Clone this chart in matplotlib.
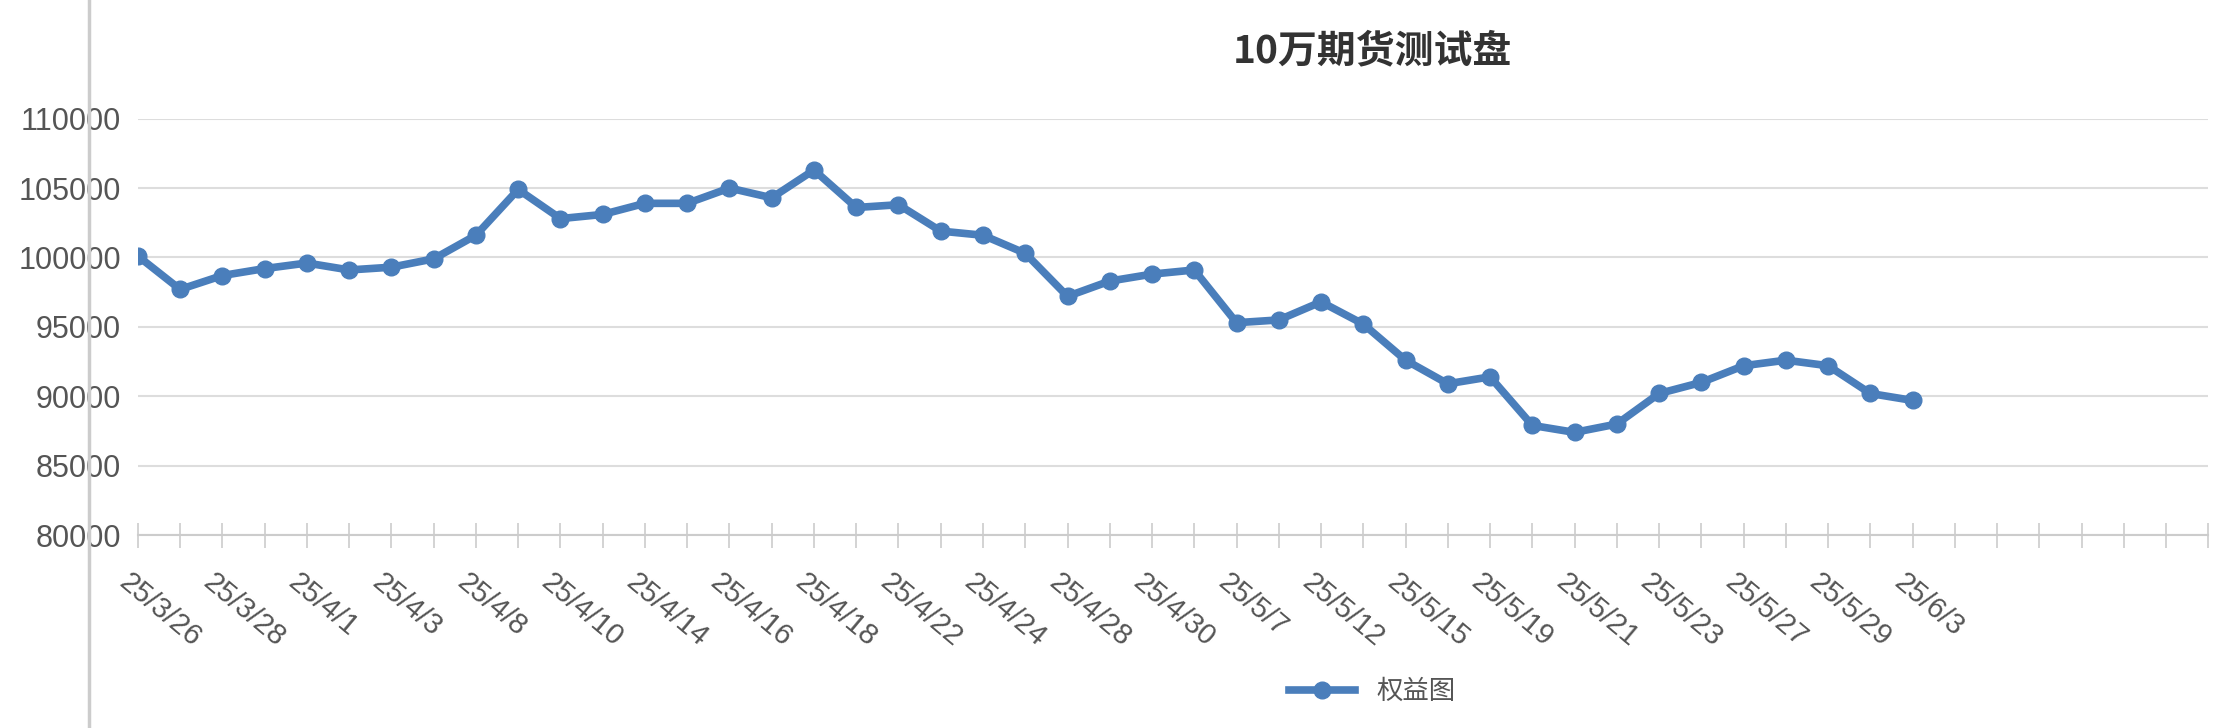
import matplotlib.pyplot as plt
import numpy as np

plt.rcParams['font.family'] = ['Noto Sans CJK SC']

dates = ['25/3/26', '25/3/27', '25/3/28', '25/3/31', '25/4/1', '25/4/2', '25/4/3', '25/4/7',
         '25/4/8', '25/4/9', '25/4/10', '25/4/11', '25/4/14', '25/4/15', '25/4/16', '25/4/17',
         '25/4/18', '25/4/21', '25/4/22', '25/4/23', '25/4/24', '25/4/25', '25/4/28', '25/4/29',
         '25/4/30', '25/5/6', '25/5/7', '25/5/9', '25/5/12', '25/5/13', '25/5/15', '25/5/16',
         '25/5/19', '25/5/20', '25/5/21', '25/5/22', '25/5/23', '25/5/26', '25/5/27', '25/5/28',
         '25/5/29', '25/5/30', '25/6/3']
equity = [100100, 97700, 98700, 99200, 99600, 99100, 99300, 99900,
          101600, 104900, 102800, 103100, 103900, 103900, 105000, 104300,
          106300, 103600, 103800, 101900, 101600, 100300, 97200, 98300,
          98800, 99100, 95300, 95500, 96800, 95200, 92600, 90900,
          91400, 87900, 87400, 88000, 90200, 91000, 92200, 92600,
          92200, 90200, 89700]
n_slots = 50  # category axis keeps empty slots after the last date

fig = plt.figure(figsize=(22.24, 7.28), dpi=100)
ax = fig.add_axes([0.062, 0.265, 0.931, 0.572])
blue = '#4a7ebb'
x = np.arange(len(equity))
ax.plot(x, equity, color=blue, lw=5.5, marker='o', ms=12, label='权益图')

ax.set_xlim(0, n_slots - 1)
ax.set_ylim(80000, 110000)
ax.set_yticks(range(80000, 110001, 5000))
ax.grid(axis='y', color='#dddddd', lw=1.5)
ax.set_axisbelow(True)
for s in ['top', 'right', 'left']:
    ax.spines[s].set_visible(False)
ax.spines['bottom'].set_color('#cccccc')
ax.spines['bottom'].set_linewidth(1.5)

ax.set_xticks(np.arange(n_slots))
ax.set_xticklabels([])
ax.tick_params(axis='x', direction='inout', length=18, width=1.2, color='#cccccc')
ax.tick_params(axis='y', length=0, labelsize=22, labelcolor='#555555', pad=12)
for i in range(0, len(dates), 2):
    ax.text(i - 0.15, 77600, dates[i], rotation=-40, rotation_mode='anchor',
            ha='left', va='top', fontsize=21, color='#555555', family='Liberation Sans')
for lbl in ax.get_yticklabels():
    lbl.set_family('Liberation Sans')

fig.add_artist(plt.Line2D([0.040, 0.040], [0, 1], color='#cccccc', lw=2.5, transform=fig.transFigure))
fig.text(0.617, 0.93, '10万期货测试盘', ha='center', va='center', fontsize=28,
         fontweight='bold', color='#333333')
fig.legend(loc='center', bbox_to_anchor=(0.617, 0.05), frameon=False, fontsize=19,
           handlelength=2.5, labelcolor='#555555')
fig.savefig('out.png')
